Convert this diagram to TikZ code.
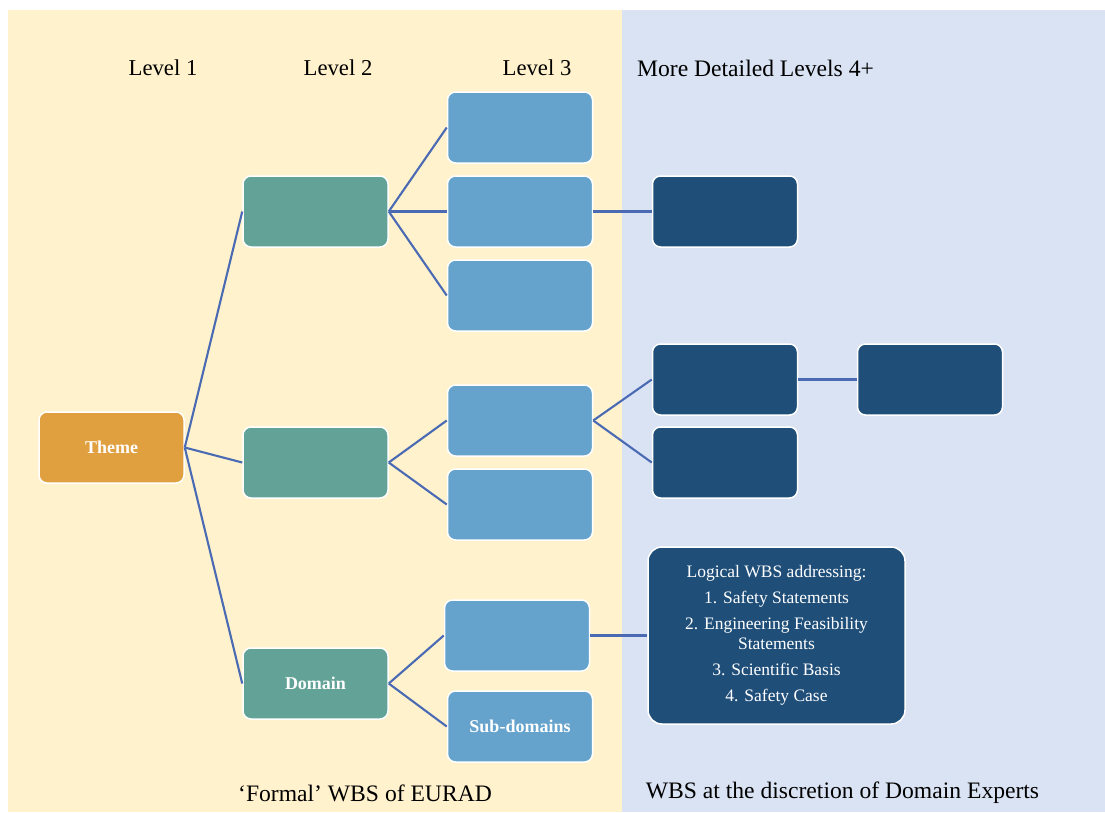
\documentclass[tikz,border=0pt]{standalone}
\usepackage{fontspec}
\setmainfont{Liberation Serif}
\definecolor{creambg}{HTML}{FFF2CC}
\definecolor{bluebg}{HTML}{DAE3F3}
\definecolor{orangebox}{HTML}{E0A040}
\definecolor{tealbox}{HTML}{63A397}
\definecolor{lightbox}{HTML}{65A3CD}
\definecolor{darkbox}{HTML}{1F4E79}
\definecolor{linkcol}{HTML}{4A6AB4}
\tikzset{
  box/.style={draw=white, line width=1.5pt, rounded corners=8pt, minimum width=145pt, minimum height=71pt, inner sep=0pt, text=white, font=\fontsize{18}{20}\selectfont\bfseries},
  themebox/.style={box, fill=orangebox},
  tealnode/.style={box, fill=tealbox},
  lightnode/.style={box, fill=lightbox},
  darknode/.style={box, fill=darkbox},
  link/.style={draw=linkcol, line width=2.1pt},
  levellabel/.style={font=\fontsize{22.7}{24}\selectfont, text=black, inner sep=0pt},
  footlabel/.style={font=\fontsize{23.6}{25}\selectfont, text=black, inner sep=0pt},
}
\begin{document}
\begin{tikzpicture}[x=1pt, y=-1pt]
\useasboundingbox (0,0) rectangle (1105,812);
\fill[white] (0,0) rectangle (1105,812);
\fill[creambg] (8,10) rectangle (622,812);
\fill[bluebg] (622,10) rectangle (1105,812);

\node[levellabel] (l1) at (163,68) {Level 1};
\node[levellabel] (l2) at (338,68) {Level 2};
\node[levellabel] (l3) at (537,68) {Level 3};
\node[footlabel] (l4) at (755.5,68) {More Detailed Levels 4+};
\node[footlabel] (f1) at (365,793) {`Formal' WBS of EURAD};
\node[footlabel] (f2) at (842.5,793) {WBS at the discretion of Domain Experts};

\node[themebox] (theme) at (111.5,447.5) {Theme};
\node[tealnode] (a) at (315.5,211.5) {};
\node[tealnode] (b) at (315.5,462.5) {};
\node[tealnode] (c) at (315.5,683.5) {Domain};

\node[lightnode] (a1) at (520,127.5) {};
\node[lightnode] (a2) at (520,211.5) {};
\node[lightnode] (a3) at (520,295.5) {};
\node[lightnode] (b1) at (520,420.5) {};
\node[lightnode] (b2) at (520,504.5) {};
\node[lightnode] (c1) at (517,635.5) {};
\node[lightnode] (c2) at (520,726.5) {Sub-domains};

\node[darknode] (a2x) at (725,211.5) {};
\node[darknode] (b1x) at (725,379.5) {};
\node[darknode] (b1y) at (725,462.5) {};
\node[darknode] (b1xx) at (930,379.5) {};

\node[darknode, minimum width=257pt, minimum height=177pt, rounded corners=14pt, font=\fontsize{17.5}{19.5}\selectfont, align=center] (info) at (776.5,635.5)
  {Logical WBS addressing:\\[6.5pt]1. Safety Statements\\[6.5pt]2. Engineering Feasibility\\Statements\\[6.5pt]3. Scientific Basis\\[6.5pt]4. Safety Case};

\draw[link] (theme.east) -- (a.west);
\draw[link] (theme.east) -- (b.west);
\draw[link] (theme.east) -- (c.west);
\draw[link] (a.east) -- (a1.west);
\draw[link] (a.east) -- (a2.west);
\draw[link] (a.east) -- (a3.west);
\draw[link] (b.east) -- (b1.west);
\draw[link] (b.east) -- (b2.west);
\draw[link] (c.east) -- (c1.west);
\draw[link] (c.east) -- (c2.west);
\draw[link] (a2.east) -- (a2x.west);
\draw[link] (b1.east) -- (b1x.west);
\draw[link] (b1.east) -- (b1y.west);
\draw[link] (b1x.east) -- (b1xx.west);
\draw[link] (c1.east) -- (info.west);
\end{tikzpicture}
\end{document}
